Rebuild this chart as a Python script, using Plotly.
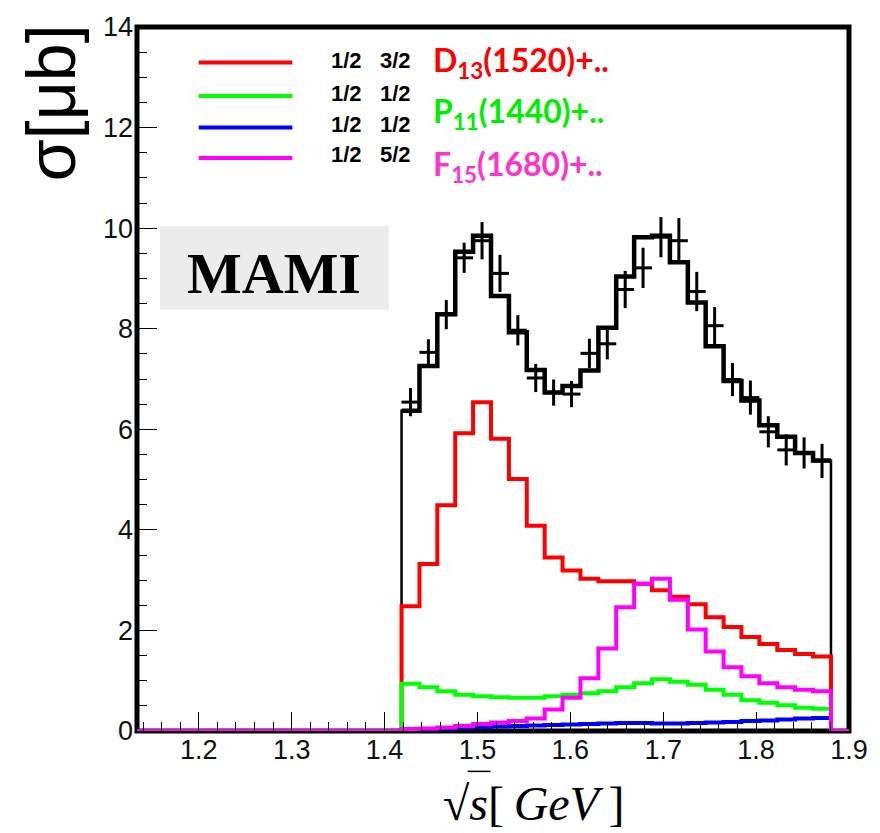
import plotly.graph_objects as go

# ---------------- data ----------------
bin_edges = [1.4183, 1.4376, 1.4568, 1.4761, 1.4953, 1.5146, 1.5339, 1.5531,
             1.5724, 1.5916, 1.6109, 1.6302, 1.6494, 1.6687, 1.6879, 1.7072,
             1.7265, 1.7457, 1.7650, 1.7842, 1.8035, 1.8228, 1.8420, 1.8613,
             1.8806]

total_sum = [6.37, 7.26, 8.29, 9.53, 9.85, 8.65, 7.93, 7.18, 6.73, 6.86, 7.17, 8.02,
             9.04, 9.82, 9.85, 9.32, 8.52, 7.65, 6.96, 6.57, 6.08, 5.85, 5.53, 5.38]

data_y = [6.54, 7.53, 8.28, 9.41, 9.75, 9.10, 7.97, 7.02, 6.73, 6.70, 7.51, 7.70,
          8.78, 9.21, 9.82, 9.75, 8.74, 8.06, 6.99, 6.63, 5.95, 5.59, 5.53, 5.37]
data_err = [0.28, 0.26, 0.29, 0.30, 0.37, 0.37, 0.30, 0.28, 0.26, 0.26, 0.29, 0.31,
            0.37, 0.40, 0.40, 0.45, 0.39, 0.37, 0.33, 0.34, 0.31, 0.31, 0.31, 0.34]

red_d13 = [2.48, 3.32, 4.49, 5.92, 6.54, 5.81, 5.01, 4.08, 3.45, 3.19, 3.03, 2.98,
           2.98, 2.93, 2.80, 2.67, 2.52, 2.26, 2.07, 1.87, 1.73, 1.61, 1.53, 1.48]
green_p11 = [0.94, 0.87, 0.79, 0.72, 0.69, 0.67, 0.66, 0.66, 0.69, 0.72, 0.75, 0.79,
             0.87, 0.95, 1.03, 0.98, 0.92, 0.82, 0.72, 0.61, 0.56, 0.51, 0.46, 0.44]
blue_p11 = [0.01, 0.03, 0.05, 0.07, 0.08, 0.09, 0.10, 0.11, 0.12, 0.13, 0.14, 0.15,
            0.16, 0.16, 0.15, 0.15, 0.16, 0.17, 0.18, 0.20, 0.21, 0.23, 0.25, 0.26]
magenta_f15 = [0.04, 0.05, 0.07, 0.10, 0.14, 0.17, 0.20, 0.25, 0.43, 0.66, 1.05, 1.64,
               2.46, 2.93, 3.03, 2.61, 2.02, 1.58, 1.27, 1.09, 0.95, 0.87, 0.82, 0.79]

legend_labels = ["1/2\u00a0\u00a0 3/2", "1/2\u00a0\u00a0 1/2", "1/2\u00a0\u00a0 1/2", "1/2\u00a0\u00a0 5/2"]
x_range = [1.1335, 1.9]
y_range = [0, 14]

# ---------------- layout helpers ----------------
W, H = 880, 833
L, R, T, B = 137, 28, 16, 102
PW, PH = W - L - R, H - T - B


def px(x):
    return (x - L) / PW


def py(y):
    return (H - B - y) / PH


def step_xy(values, with_zero_tails=True):
    xs = list(bin_edges)
    ys = list(values) + [values[-1]]
    if with_zero_tails:
        xs = [x_range[0]] + xs + [x_range[1]]
        ys = [0] + list(values) + [0, 0]
    return xs, ys


fig = go.Figure()

# total (thin outline incl. edges to zero)
xs, ys = step_xy(total_sum)
fig.add_trace(go.Scatter(x=xs, y=ys, mode="lines", line=dict(color="black", width=2.5, shape="hv"),
                         showlegend=False, hoverinfo="skip"))
xs, ys = step_xy(total_sum, with_zero_tails=False)
fig.add_trace(go.Scatter(x=xs, y=ys, mode="lines", line=dict(color="black", width=4.5, shape="hv"),
                         showlegend=False, hoverinfo="skip"))

for vals, col in [(red_d13, "#ff0000"), (green_p11, "#00ff00"),
                  (blue_p11, "#0000ff"), (magenta_f15, "#ff00ff")]:
    xs, ys = step_xy(vals)
    fig.add_trace(go.Scatter(x=xs, y=ys, mode="lines", line=dict(color=col, width=4, shape="hv"),
                             showlegend=False, hoverinfo="skip"))

centers = [(bin_edges[i] + bin_edges[i + 1]) / 2 for i in range(len(bin_edges) - 1)]
halfw = [(bin_edges[i + 1] - bin_edges[i]) / 2 for i in range(len(bin_edges) - 1)]
fig.add_trace(go.Scatter(
    x=centers, y=data_y, mode="markers",
    marker=dict(size=1, color="black"),
    error_y=dict(type="data", array=data_err, color="black", thickness=3, width=0),
    error_x=dict(type="data", array=halfw, color="black", thickness=3, width=0),
    showlegend=False, hoverinfo="skip"))

shapes = [
    dict(type="rect", xref="paper", yref="paper", x0=0, x1=1, y0=0, y1=1,
         line=dict(color="black", width=5), layer="below"),
    dict(type="rect", xref="paper", yref="paper", x0=px(160), x1=px(390), y0=py(303), y1=py(218),
         fillcolor="#ececec", line=dict(width=0), layer="below"),
    # radical overbar of sqrt(s)
    dict(type="line", xref="paper", yref="paper", x0=px(469), x1=px(492), y0=py(772), y1=py(772),
         line=dict(color="black", width=1.5)),
]

leg_cols = ["#ff0000", "#00ff00", "#0000ff", "#ff00ff"]
leg_line_y = [52, 86, 118, 149]
leg_text_y = [50, 84, 115, 146]
annotations = []
for c, ly, ty, lab in zip(leg_cols, leg_line_y, leg_text_y, legend_labels):
    shapes.append(dict(type="line", xref="paper", yref="paper", x0=px(199), x1=px(293),
                       y0=py(ly), y1=py(ly), line=dict(color=c, width=4)))
    annotations.append(dict(xref="paper", yref="paper", x=px(330), y=py(ty), xanchor="left",
                            yanchor="middle", showarrow=False, text="<b>" + lab + "</b>",
                            font=dict(family="Liberation Sans", size=22, color="black")))

for txt, col, yc in [("D<sub>13</sub>(1520)+..", "#ff0000", 52),
                     ("P<sub>11</sub>(1440)+..", "#00ee00", 103),
                     ("F<sub>15</sub>(1680)+..", "#ff33cc", 157)]:
    annotations.append(dict(xref="paper", yref="paper", x=px(432), y=py(yc), xanchor="left",
                            yanchor="middle", showarrow=False, text="<b>" + txt + "</b>",
                            font=dict(family="Lato", size=32, color=col)))

annotations.append(dict(xref="paper", yref="paper", x=px(275), y=py(266), xanchor="center",
                        yanchor="middle", showarrow=False, text="<b>MAMI</b>",
                        font=dict(family="Liberation Serif", size=58, color="black")))
annotations.append(dict(xref="paper", yref="paper", x=px(50), y=py(93), xanchor="center",
                        yanchor="middle", showarrow=False, text="σ[μb]", textangle=-90,
                        font=dict(family="Liberation Sans", size=68, color="black")))
annotations.append(dict(xref="paper", yref="paper", x=px(536), y=py(805), xanchor="center",
                        yanchor="middle", showarrow=False,
                        text="√<i>s</i>[\u2009<i>GeV</i>\u2009]",
                        font=dict(family="Liberation Serif", size=48, color="black")))

tickfont = dict(family="Liberation Sans", size=27, color="#111111")
fig.update_layout(
    width=W, height=H, margin=dict(l=L, r=R, t=T, b=B),
    paper_bgcolor="white", plot_bgcolor="rgba(0,0,0,0)",
    shapes=shapes, annotations=annotations,
    xaxis=dict(range=x_range, tickmode="linear", tick0=1.2, dtick=0.1, ticks="inside",
               ticklen=19, tickwidth=1.2, tickcolor="black", showgrid=False, zeroline=False,
               showline=False, tickfont=tickfont, tickformat=".1f",
               minor=dict(tick0=1.2, dtick=0.02, ticks="inside", ticklen=9, tickcolor="black",
                          tickwidth=1, showgrid=False)),
    yaxis=dict(range=y_range, tickmode="linear", tick0=0, dtick=2, ticks="inside",
               ticklen=20, tickwidth=1.2, tickcolor="black", showgrid=False, zeroline=False,
               showline=False, tickfont=tickfont, ticklabelstandoff=3,
               minor=dict(tick0=0, dtick=0.5, ticks="inside", ticklen=10, tickcolor="black",
                          tickwidth=1, showgrid=False)),
)

fig.write_html("out.html")
